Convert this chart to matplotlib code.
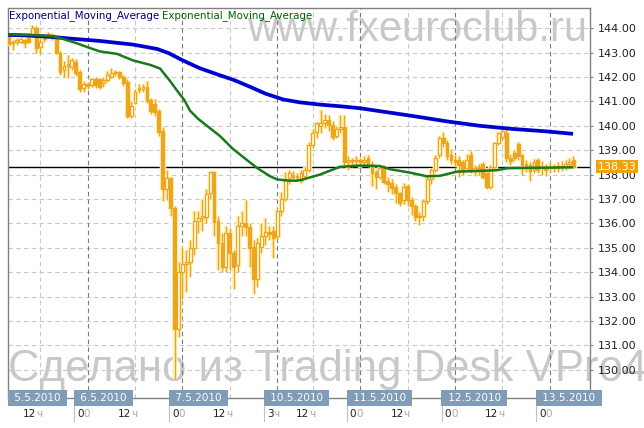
import matplotlib
matplotlib.use("Agg")
import matplotlib.pyplot as plt
from matplotlib.patches import Rectangle
from matplotlib.transforms import blended_transform_factory

# hourly bars, EUR/JPY 5.5.2010 - 13.5.2010, first visible bar index
first_bar = 4

opens = [
    143.73, 143.40, 143.45, 143.45, 143.50, 143.60, 143.72, 144.00, 143.25, 143.55, 143.65, 143.72,
    143.55, 143.00, 142.30, 142.45, 142.40, 142.60, 142.20, 141.55, 141.70, 141.68, 141.92, 141.90,
    141.75, 141.88, 142.00, 142.15, 142.20, 142.00, 141.80, 140.40, 140.95, 141.45, 141.50, 141.60,
    141.05, 140.90, 140.60, 139.80, 137.40, 137.85, 136.65, 131.65, 134.00, 134.35, 134.40, 135.00,
    136.10, 136.20, 136.25, 137.25, 138.10, 136.10, 135.20, 134.20, 135.60, 134.80, 134.30, 135.90,
    136.00, 135.85, 135.05, 133.70, 135.05, 135.50, 135.65, 135.70, 135.50, 136.50, 137.00, 137.85,
    138.00, 137.90, 137.75, 137.95, 138.20, 139.20, 139.75, 140.00, 140.10, 140.25, 140.05, 139.60,
    139.85, 139.95, 138.50, 138.60, 138.55, 138.60, 138.50, 138.70, 138.45, 138.10, 137.90, 138.30,
    137.75, 137.65, 137.50, 137.25, 136.95, 137.55, 136.95, 136.70, 136.25, 136.30, 136.90, 137.80,
    138.20, 138.80, 139.50, 139.30, 138.80, 138.60, 138.60, 138.50, 138.25, 138.80, 138.20, 138.30,
    138.45, 138.05, 137.50, 138.30, 139.30, 139.55, 139.70, 138.70, 138.90, 139.25, 138.80, 138.45,
    138.40, 138.20, 138.60, 138.25, 138.30, 138.25, 138.30, 138.25, 138.35, 138.30, 138.45, 138.60,
]
highs = [
    143.80, 143.52, 143.60, 143.62, 143.56, 143.70, 144.12, 144.10, 143.60, 143.70, 143.85, 143.80,
    143.62, 143.05, 142.65, 142.90, 142.80, 142.75, 142.30, 141.85, 141.80, 141.98, 142.00, 141.95,
    142.00, 142.25, 142.35, 142.30, 142.25, 142.10, 141.90, 141.00, 141.50, 141.70, 141.70, 141.85,
    141.15, 141.10, 140.70, 139.95, 138.20, 137.90, 136.70, 134.40, 135.05, 134.90, 135.30, 136.50,
    136.50, 137.00, 137.40, 138.15, 138.15, 136.30, 135.60, 135.90, 135.80, 134.90, 136.30, 136.50,
    136.95, 136.00, 135.30, 135.40, 136.00, 136.20, 135.90, 135.90, 136.60, 137.30, 138.10, 138.20,
    138.15, 138.05, 138.20, 138.30, 139.35, 139.85, 140.15, 140.65, 140.50, 140.45, 140.20, 140.00,
    140.45, 140.45, 138.75, 138.70, 138.75, 138.70, 138.75, 138.80, 138.55, 138.20, 138.40, 138.40,
    137.90, 137.80, 137.60, 137.30, 137.65, 137.60, 137.10, 136.80, 136.45, 137.00, 137.95, 138.25,
    138.80, 139.60, 139.75, 139.40, 139.05, 138.80, 138.75, 138.60, 138.85, 138.95, 138.40, 138.45,
    138.50, 138.10, 138.40, 139.35, 139.75, 139.90, 139.85, 138.85, 139.00, 139.35, 138.85, 138.60,
    138.50, 138.65, 138.70, 138.55, 138.45, 138.50, 138.45, 138.50, 138.55, 138.60, 138.70, 138.75,
]
lows = [
    143.30, 143.10, 143.30, 143.38, 143.20, 143.40, 143.65, 143.00, 142.95, 143.45, 143.60, 143.50,
    142.95, 142.10, 142.00, 141.95, 142.30, 142.05, 141.40, 141.40, 141.50, 141.60, 141.55, 141.50,
    141.60, 141.80, 141.95, 142.05, 141.90, 141.65, 140.30, 140.30, 140.90, 141.35, 141.40, 140.95,
    140.50, 140.40, 139.60, 136.90, 136.95, 136.30, 129.60, 131.35, 132.90, 133.20, 133.80, 134.70,
    135.60, 135.70, 136.00, 137.00, 135.50, 134.10, 134.00, 134.00, 134.10, 133.30, 134.00, 135.50,
    135.50, 134.20, 133.10, 133.40, 134.80, 135.10, 135.30, 134.60, 135.30, 136.30, 136.90, 137.60,
    137.80, 137.75, 137.65, 137.85, 138.10, 139.10, 139.50, 139.70, 139.90, 139.80, 139.40, 139.50,
    139.70, 138.40, 138.20, 138.30, 138.35, 138.25, 138.35, 138.30, 137.55, 137.40, 137.80, 137.60,
    137.30, 137.20, 136.85, 136.70, 136.80, 136.70, 136.35, 136.10, 135.95, 136.10, 136.80, 137.60,
    138.10, 138.70, 139.15, 138.60, 138.45, 138.30, 137.90, 138.00, 138.15, 138.05, 137.95, 138.00,
    137.80, 137.40, 137.40, 138.20, 139.20, 139.40, 138.50, 138.40, 138.55, 138.60, 138.00, 138.10,
    137.75, 138.05, 138.05, 138.00, 137.95, 138.05, 138.10, 138.10, 138.15, 138.20, 138.25, 138.25,
]
closes = [
    143.35, 143.45, 143.50, 143.55, 143.40, 143.45, 144.00, 143.20, 143.45, 143.60, 143.78, 143.58,
    143.00, 142.20, 142.45, 142.55, 142.70, 142.15, 141.50, 141.70, 141.65, 141.90, 141.68, 141.60,
    141.88, 142.10, 142.15, 142.20, 142.00, 141.75, 140.40, 140.80, 141.40, 141.55, 141.60, 141.00,
    140.60, 140.55, 139.75, 137.40, 137.85, 136.65, 131.65, 134.00, 134.35, 134.40, 135.00, 136.10,
    136.20, 136.30, 137.20, 138.10, 136.06, 135.20, 134.20, 135.60, 134.80, 134.20, 135.90, 136.00,
    135.85, 135.00, 133.70, 135.20, 135.50, 135.65, 135.55, 135.40, 136.50, 137.00, 137.80, 138.05,
    137.90, 137.95, 138.05, 138.20, 139.20, 139.70, 140.10, 140.10, 140.25, 140.05, 139.55, 139.85,
    139.95, 138.50, 138.60, 138.55, 138.60, 138.50, 138.60, 138.45, 138.05, 137.90, 138.25, 137.70,
    137.60, 137.45, 137.25, 136.85, 137.50, 136.95, 136.70, 136.25, 136.30, 136.90, 137.80, 138.20,
    138.70, 139.50, 139.30, 138.75, 138.60, 138.50, 138.40, 138.20, 138.60, 138.20, 138.25, 138.20,
    137.90, 137.50, 138.30, 139.30, 139.70, 139.80, 138.70, 138.55, 138.70, 138.75, 138.40, 138.25,
    138.15, 138.50, 138.20, 138.30, 138.20, 138.30, 138.25, 138.35, 138.30, 138.45, 138.50, 138.33,
]

# indicator lines (bar index, value)
ema_slow_x = [3.8, 9, 14.5, 20, 27, 35.5, 41.6, 44.5, 48.1, 52.4, 57.5, 61, 65.1, 69, 73.5,
              77.8, 82.8, 88, 93, 98, 106.4, 115, 123.3, 131.7, 140.3, 146.9]
ema_slow = [143.73, 143.70, 143.65, 143.57, 143.48, 143.33, 143.15, 142.98, 142.68, 142.36,
            142.07, 141.88, 141.60, 141.32, 141.08, 140.96, 140.87, 140.80, 140.72, 140.60,
            140.40, 140.18, 140.00, 139.87, 139.77, 139.67]
ema_fast_x = [3.8, 10, 14.5, 17, 21.3, 24, 27.1, 31.4, 35.5, 39.8, 42.3, 44.8, 46.6, 48.5,
              49.9, 52, 54.2, 57.5, 60.8, 64.3, 66.9, 70.2, 72, 75, 77, 78.5, 82.8, 87.9, 93,
              98, 100.6, 105.6, 109.9, 113.2, 117.5, 123.3, 127.6, 130.2, 137, 143.6, 146.9]
ema_fast = [143.75, 143.72, 143.68, 143.60, 143.38, 143.22, 143.05, 142.95, 142.68, 142.50,
            142.35, 141.85, 141.45, 141.05, 140.62, 140.28, 140.00, 139.58, 139.05, 138.60,
            138.27, 137.93, 137.80, 137.75, 137.75, 137.80, 138.00, 138.32, 138.37, 138.35,
            138.22, 138.08, 137.93, 137.95, 138.12, 138.15, 138.18, 138.26, 138.28, 138.29,
            138.30]

last_price = 138.33
price_ticks = list(range(130, 145))

day_labels = ["5.5.2010", "6.5.2010", "7.5.2010", "10.5.2010", "11.5.2010", "12.5.2010", "13.5.2010"]
day_bars = [24, 48, 72, 93, 117, 141]
half_bars = [12, 36, 60, 81, 105, 129]
hour_marks = [(12, "12", "ч"), (24, "0", "0"), (36, "12", "ч"), (48, "0", "0"), (60, "12", "ч"),
              (72, "3", "ч"), (81, "12", "ч"), (93, "0", "0"), (105, "12", "ч"), (117, "0", "0"),
              (129, "12", "ч"), (141, "0", "0")]

W, H = 644, 428
ORANGE = "#EDA520"
GLOW = "#FFF3BF"

fig = plt.figure(figsize=(W / 100, H / 100), dpi=100)
fig.patch.set_facecolor("white")

# watermarks behind everything
fig.text(587 / W, 1 - 41 / H, "www.fxeuroclub.ru", ha="right", va="baseline",
         fontsize=30, family="Liberation Sans", color="#C8C8C8", zorder=-5)
fig.text(8 / W, 1 - 381 / H, "Сделано из Trading Desk VPro4", ha="left", va="baseline",
         fontsize=31.5, family="Liberation Sans", color="#C8C8C8", zorder=-5)

ax = fig.add_axes([8 / W, 1 - 398 / H, 582 / W, 390 / H])
ax.patch.set_alpha(0)
xmin, xmax = 3.82, 151.2
ax.set_xlim(xmin, xmax)
ax.set_ylim(128.84, 144.83)

for s in ax.spines.values():
    s.set_color("#808080")
    s.set_linewidth(1)

# grid
for p in price_ticks:
    ax.axhline(p, color="#C8C8C8", lw=0.8, ls=(0, (4, 3)), zorder=1)
for b in half_bars:
    ax.axvline(b, color="#C8C8C8", lw=0.8, ls=(0, (4, 3)), zorder=1)
for b in day_bars:
    ax.axvline(b, color="#7A7A7A", lw=0.8, ls=(0, (4, 3)), zorder=1)

ax.axhline(last_price, color="black", lw=1, zorder=2.5)

# candles
bw = 0.72
for k, (o, h, l, c) in enumerate(zip(opens, highs, lows, closes)):
    i = first_bar + k
    ax.plot([i, i], [l, h], color=GLOW, lw=3.2, zorder=2.6, solid_capstyle="butt")
    ax.plot([i, i], [l, h], color=ORANGE, lw=1, zorder=3, solid_capstyle="butt")
    lo, hi = min(o, c), max(o, c)
    ax.add_patch(Rectangle((i - bw / 2, lo), bw, hi - lo, fc=GLOW, ec=GLOW, lw=2.5, zorder=2.7))
    fc = ORANGE if c < o else "#FFFBE6"
    ax.add_patch(Rectangle((i - bw / 2, lo), bw, hi - lo, fc=fc, ec=ORANGE, lw=0.9, zorder=3.1))

ax.plot(ema_slow_x, ema_slow, color="#0000D0", lw=2.7, zorder=4, solid_capstyle="butt")
ax.plot(ema_fast_x, ema_fast, color="#1A7A1A", lw=1.8, zorder=4, solid_capstyle="butt")

# price axis on the right
ax.set_xticks([])
ax.yaxis.tick_right()
ax.set_yticks(price_ticks)
ax.set_yticklabels([f"{p:.2f}" for p in price_ticks])
ax.tick_params(axis="y", length=2.2, width=0.8, color="#808080", pad=3.6,
               labelsize=8, labelcolor="#202020")

yprice = blended_transform_factory(ax.transAxes, ax.transData)
ax.annotate(f"{last_price:.2f}", xy=(1, last_price), xycoords=yprice, xytext=(5.4, 0),
            textcoords="offset points", ha="left", va="center", fontsize=8, color="white",
            bbox=dict(boxstyle="square,pad=0.14", fc="#F0A30A", ec="none"),
            annotation_clip=False, zorder=6)

# time axis: date boxes and hour labels
tx = blended_transform_factory(ax.transData, ax.transAxes)
box_left = [xmin] + [b - 3.4 for b in day_bars]
for lab, left in zip(day_labels, box_left):
    ax.annotate(" " + lab + " ", xy=(left, 0), xycoords=tx, xytext=(2.2, 0),
                textcoords="offset points", ha="left", va="center", fontsize=7.5,
                color="white", bbox=dict(boxstyle="square,pad=0.3", fc="#7F9CB8", ec="none"),
                annotation_clip=False, zorder=6)
for left in box_left[1:]:
    ax.plot([left, left], [-7 / 390, -23 / 390], transform=tx, color="#C0C0C0",
            lw=0.8, clip_on=False)

hy = -16 / 390
for b, main, suffix in hour_marks:
    ax.text(b - 1, hy, main, transform=tx, ha="right", va="center", fontsize=7.5,
            color="#202020", clip_on=False)
    ax.text(b - 1, hy, suffix, transform=tx, ha="left", va="center", fontsize=7.5,
            color="#A8A8A8", clip_on=False)

# indicator captions
fig.text(9 / W, 1 - 16 / H, "Exponential_Moving_Average", ha="left", va="center",
         fontsize=7.4, color="#000080")
fig.text(162 / W, 1 - 16 / H, "Exponential_Moving_Average", ha="left", va="center",
         fontsize=7.4, color="#006400")

fig.savefig("out.png", dpi=100)
